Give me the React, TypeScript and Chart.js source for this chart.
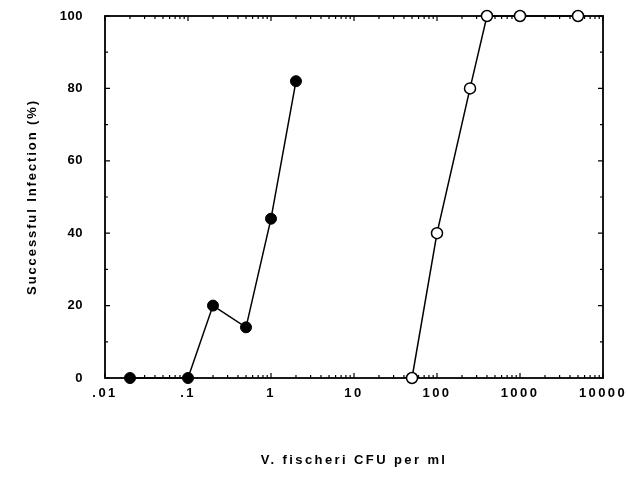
import React, { useEffect, useRef } from "react";
import { Chart, registerables } from "chart.js";

Chart.register(...registerables);

// ---- data ----
const FILLED_X = [0.02, 0.1, 0.2, 0.5, 1, 2];
const FILLED_Y = [0, 0, 20, 14, 44, 82];
const OPEN_X = [50, 100, 250, 400, 1000, 5000];
const OPEN_Y = [0, 40, 80, 100, 100, 100];

const X_TICKS = [0.01, 0.1, 1, 10, 100, 1000, 10000];
const X_TICK_LABELS = [".01", ".1", "1", "10", "100", "1000", "10000"];
const X_MINOR_MULTS = [2, 3, 4, 5, 6, 7, 8, 9];
const Y_TICKS = [0, 20, 40, 60, 80, 100];
const Y_MINOR = [10, 30, 50, 70, 90];

const X_TITLE = "V. fischeri CFU per ml";
const Y_TITLE = "Successful Infection (%)";

const FONT = "'Liberation Sans', Arial, Helvetica, sans-serif";

const frameTicks = {
  id: "frameTicks",
  afterLayout(chart: any) {
    const wrap = (scale: any, labelSpacing: string, titleSpacing: string) => {
      if (!scale || scale.__wrapped) return;
      const origLabels = scale.drawLabels.bind(scale);
      const origTitle = scale.drawTitle.bind(scale);
      scale.drawLabels = (area: any) => {
        const ctx = chart.ctx;
        ctx.save();
        ctx.letterSpacing = labelSpacing;
        origLabels(area);
        ctx.restore();
      };
      scale.drawTitle = () => {
        const ctx = chart.ctx;
        ctx.save();
        ctx.letterSpacing = titleSpacing;
        origTitle();
        ctx.restore();
      };
      scale.__wrapped = true;
    };
    wrap(chart.scales.x, "2.4px", "2.4px");
    wrap(chart.scales.y, "0.5px", "1.9px");
  },
  beforeDatasetsDraw(chart: any) {
    const { ctx, chartArea } = chart;
    const { left, right, top, bottom } = chartArea;
    const xs = chart.scales.x;
    const ys = chart.scales.y;
    ctx.save();
    ctx.strokeStyle = "#000";
    ctx.lineCap = "butt";
    ctx.lineWidth = 1.2;
    const major = 5;
    const minor = 3;
    ctx.beginPath();
    X_TICKS.forEach((v) => {
      const px = xs.getPixelForValue(v);
      ctx.moveTo(px, bottom);
      ctx.lineTo(px, bottom - major);
      ctx.moveTo(px, top);
      ctx.lineTo(px, top + major);
    });
    X_TICKS.slice(0, -1).forEach((d) => {
      X_MINOR_MULTS.forEach((m) => {
        const px = xs.getPixelForValue(d * m);
        ctx.moveTo(px, bottom);
        ctx.lineTo(px, bottom - minor);
        ctx.moveTo(px, top);
        ctx.lineTo(px, top + minor);
      });
    });
    Y_TICKS.forEach((v) => {
      const py = ys.getPixelForValue(v);
      ctx.moveTo(left, py);
      ctx.lineTo(left + major, py);
      ctx.moveTo(right, py);
      ctx.lineTo(right - major, py);
    });
    Y_MINOR.forEach((v) => {
      const py = ys.getPixelForValue(v);
      ctx.moveTo(left, py);
      ctx.lineTo(left + minor, py);
      ctx.moveTo(right, py);
      ctx.lineTo(right - minor, py);
    });
    ctx.stroke();
    ctx.lineWidth = 1.8;
    ctx.strokeRect(left, top, right - left, bottom - top);
    ctx.restore();
  },
};

export default function App() {
  const canvasRef = useRef<HTMLCanvasElement | null>(null);

  useEffect(() => {
    const canvas = canvasRef.current;
    if (!canvas) return;
    const chart = new Chart(canvas, {
      type: "line",
      data: {
        datasets: [
          {
            label: "filled",
            data: FILLED_X.map((x, i) => ({ x, y: FILLED_Y[i] })),
            borderColor: "#000",
            borderWidth: 1.5,
            backgroundColor: "#000",
            pointBackgroundColor: "#000",
            pointBorderColor: "#000",
            pointRadius: 5.5,
            pointBorderWidth: 1,
            tension: 0,
            clip: false as any,
          },
          {
            label: "open",
            data: OPEN_X.map((x, i) => ({ x, y: OPEN_Y[i] })),
            borderColor: "#000",
            borderWidth: 1.5,
            backgroundColor: "#fff",
            pointBackgroundColor: "#fff",
            pointBorderColor: "#000",
            pointRadius: 5.5,
            pointBorderWidth: 1.5,
            tension: 0,
            clip: false as any,
          },
        ],
      },
      options: {
        animation: false,
        responsive: true,
        maintainAspectRatio: false,
        layout: { padding: { left: 0, right: 25, top: 16, bottom: 12 } },
        plugins: {
          legend: { display: false },
          tooltip: { enabled: false },
        },
        scales: {
          x: {
            type: "logarithmic",
            min: 0.01,
            max: 10000,
            grid: { display: false, drawTicks: false },
            border: { display: false },
            afterBuildTicks: (scale: any) => {
              scale.ticks = X_TICKS.map((v) => ({ value: v }));
            },
            afterFit: (scale: any) => {
              scale.height = 90;
              scale.paddingLeft = 0;
              scale.paddingRight = 0;
            },
            ticks: {
              autoSkip: false,
              maxRotation: 0,
              padding: 8,
              color: "#000",
              font: { family: FONT, size: 13, weight: "bold" },
              callback: (value: any) => {
                const i = X_TICKS.findIndex((t) => Math.abs(t - Number(value)) < 1e-9 * Math.max(1, t));
                return i >= 0 ? X_TICK_LABELS[i] : "";
              },
            },
            title: {
              display: true,
              text: X_TITLE,
              color: "#000",
              font: { family: FONT, size: 13, weight: "bold" },
              padding: { top: 0, bottom: 0 },
            },
          },
          y: {
            type: "linear",
            min: 0,
            max: 100,
            grid: { display: false, drawTicks: false },
            border: { display: false },
            afterBuildTicks: (scale: any) => {
              scale.ticks = Y_TICKS.map((v) => ({ value: v }));
            },
            afterFit: (scale: any) => {
              scale.width = 105;
              scale.paddingTop = 0;
              scale.paddingBottom = 0;
            },
            ticks: {
              padding: 22,
              color: "#000",
              font: { family: FONT, size: 13, weight: "bold" },
            },
            title: {
              display: true,
              text: Y_TITLE,
              color: "#000",
              font: { family: FONT, size: 13, weight: "bold" },
              padding: { top: 25, bottom: 0 },
            },
          },
        },
      },
      plugins: [frameTicks],
    });
    return () => chart.destroy();
  }, []);

  return (
    <div style={{ position: "absolute", left: 0, top: 0, width: 628, height: 480, background: "#fff" }}>
      <canvas ref={canvasRef} />
    </div>
  );
}
